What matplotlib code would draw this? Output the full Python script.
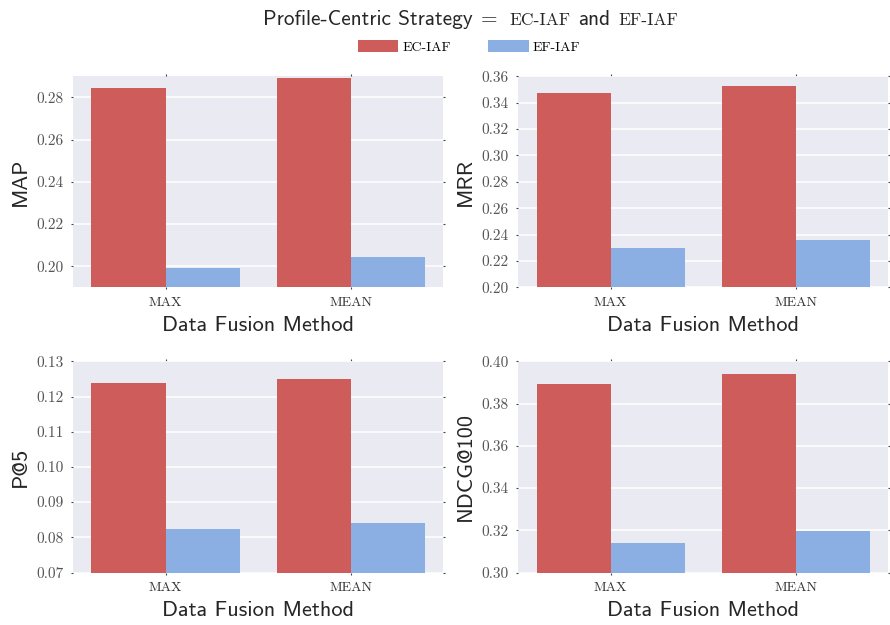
import numpy as np
import matplotlib
matplotlib.use("Agg")
import matplotlib.pyplot as plt
from matplotlib.patches import Patch
from matplotlib.ticker import FormatStrFormatter

methods = ["MAX", "MEAN"]
series = ["EC-IAF", "EF-IAF"]
metrics = ["MAP", "MRR", "P@5", "NDCG@100"]

map_ec = [0.2843, 0.2890]
map_ef = [0.1992, 0.2042]
mrr_ec = [0.3474, 0.3529]
mrr_ef = [0.2299, 0.2359]
p5_ec = [0.1238, 0.1250]
p5_ef = [0.0825, 0.0840]
ndcg_ec = [0.3893, 0.3940]
ndcg_ef = [0.3138, 0.3195]

ylims = [(0.19, 0.29), (0.20, 0.36), (0.07, 0.13), (0.30, 0.40)]
yticks = [np.arange(0.20, 0.281, 0.02), np.arange(0.20, 0.361, 0.02),
          np.arange(0.07, 0.131, 0.01), np.arange(0.30, 0.401, 0.02)]
values = [(map_ec, map_ef), (mrr_ec, mrr_ef), (p5_ec, p5_ef), (ndcg_ec, ndcg_ef)]

red = "#cd5c5a"
blue = "#8bafe2"
bg = "#eaeaf2"

fig, axes = plt.subplots(2, 2, figsize=(8.9, 6.25), dpi=100)
fig.subplots_adjust(left=0.082, right=0.998, top=0.878, bottom=0.084,
                    wspace=0.202, hspace=0.35)

x = np.arange(len(methods))
for ax, name, (ec, ef), lim, ticks in zip(axes.flat, metrics, values, ylims, yticks):
    ax.set_facecolor(bg)
    ax.set_axisbelow(True)
    ax.yaxis.grid(True, color="white", linewidth=1.1)
    ax.xaxis.grid(False)
    for s in ax.spines.values():
        s.set_visible(False)
    ax.bar(x - 0.2, ec, width=0.4, color=red, zorder=2)
    ax.bar(x + 0.2, ef, width=0.4, color=blue, zorder=2)
    ax.set_xlim(-0.5, 1.5)
    ax.set_ylim(*lim)
    ax.set_yticks(ticks)
    ax.yaxis.set_major_formatter(FormatStrFormatter("%.2f"))
    ax.set_xticks(x)
    ax.set_xticklabels(methods, fontfamily="cmr10", fontsize=10, color="#333333")
    for lab in ax.get_yticklabels():
        lab.set_fontfamily("cmr10")
        lab.set_fontsize(11)
        lab.set_color("#555555")
    ax.tick_params(axis="both", length=1.5, width=0.8, color="#444444",
                   top=True, right=True, direction="out", pad=5)
    ax.set_ylabel(name, fontfamily="cmss10", fontsize=16, color="#262626", labelpad=5)
    ax.set_xlabel("Data Fusion Method", fontfamily="cmss10", fontsize=16,
                  color="#262626", labelpad=5)

# title: sans text mixed with serif small-caps names, placed piece by piece
pieces = [("Profile-Centric Strategy", "cmss10", 15.3, 0),
          ("=", "cmr10", 15.3, 8),
          ("EC-IAF", "cmr10", 12.5, 12),
          ("and", "cmss10", 15.3, 8),
          ("EF-IAF", "cmr10", 12.5, 8)]
renderer = fig.canvas.get_renderer()
xpix = 263.0
for txt, fam, size, gap in pieces:
    xpix += gap
    t = fig.text(xpix / 890, 1 - 25 / 625, txt, ha="left", va="baseline",
                 fontfamily=fam, fontsize=size, color="#262626")
    xpix += t.get_window_extent(renderer).width

handles = [Patch(facecolor=red), Patch(facecolor=blue)]
fig.legend(handles, series, loc="center", bbox_to_anchor=(0.527, 0.925), ncol=2,
           frameon=False, prop={"family": "cmr10", "size": 10},
           handlelength=2.9, handleheight=0.9, columnspacing=2.7, handletextpad=0.3)

fig.savefig("out.png", dpi=100)
